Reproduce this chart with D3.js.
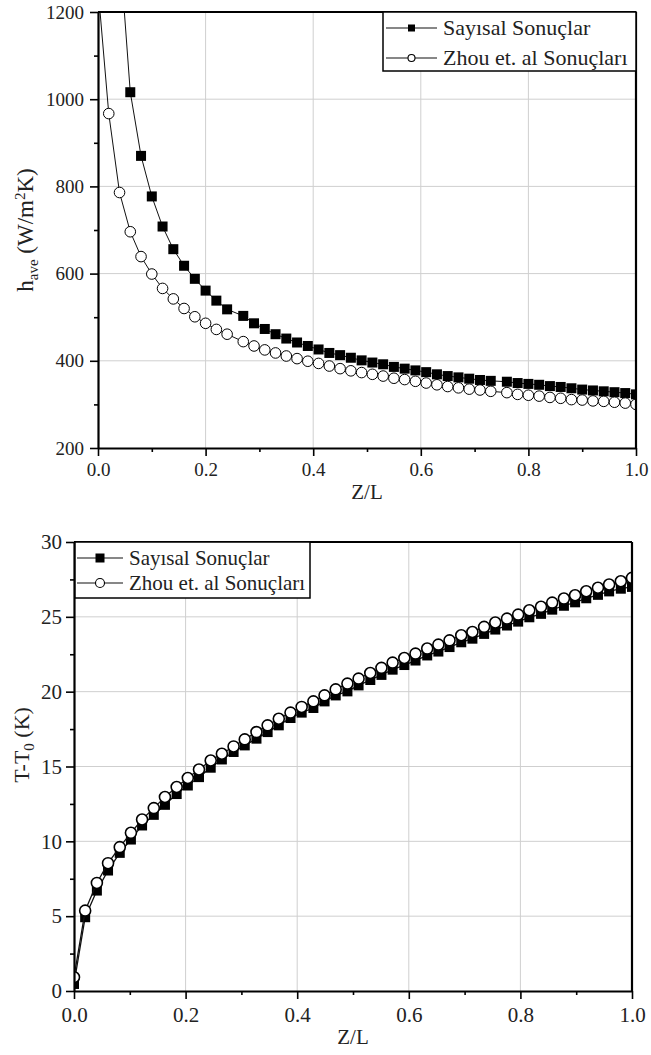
<!DOCTYPE html>
<html>
<head>
<meta charset="utf-8">
<script src="https://cdn.jsdelivr.net/npm/d3@7"></script>
<style>
  html, body { margin: 0; padding: 0; background: #fff; }
  svg { display: block; }
</style>
</head>
<body>
<script>
// ---------- DATA ----------
const seriesNames = ["Sayısal Sonuçlar", "Zhou et. al Sonuçları"];

// Top chart: h_ave vs Z/L
const topZ = [0,0.02,0.04,0.06,0.08,0.10,0.12,0.14,0.16,0.18,0.20,0.22,0.24,
  0.27,0.29,0.31,0.33,0.35,0.37,0.39,0.41,0.43,0.45,0.47,0.49,0.51,0.53,0.55,0.57,0.59,
  0.61,0.63,0.65,0.67,0.69,0.71,0.73,
  0.76,0.78,0.80,0.82,0.84,0.86,0.88,0.90,0.92,0.94,0.96,0.98,1.00];
const sayisalH = [null,null,1351,1016,870,777,708,656,618,588,561,538,518,
  503,486,473,461,451,442,434,426,418,413,407,401,396,392,386,382,378,
  374,369,365,362,359,356,354,
  352,349,347,345,342,340,337,334,332,330,328,326,323];
const zhouH = [1255,967,786,696,639,599,566,542,520,501,486,472,461,
  444,434,425,418,411,405,399,394,388,382,377,373,369,365,360,357,353,
  349,345,341,338,335,333,330,
  327,323,321,319,316,314,311,310,308,307,305,303,300];
const topXTicks = [0, 0.2, 0.4, 0.6, 0.8, 1.0];
const topXMinor = [0.1, 0.3, 0.5, 0.7, 0.9];
const topYTicks = [200, 400, 600, 800, 1000, 1200];
const topYMinor = [300, 500, 700, 900, 1100];

// Bottom chart: T-T0 vs Z/L
const botZ = [0,0.02,0.041,0.061,0.082,0.102,0.122,0.143,0.163,0.184,0.204,0.224,0.245,
  0.265,0.286,0.306,0.327,0.347,0.367,0.388,0.408,0.429,0.449,0.469,0.49,0.51,0.531,
  0.551,0.571,0.592,0.612,0.633,0.653,0.673,0.694,0.714,0.735,0.755,0.776,0.796,0.816,
  0.837,0.857,0.878,0.898,0.918,0.939,0.959,0.98,1.0];
const sayisalT = [0.47,4.93,6.71,8.05,9.23,10.12,11.06,11.77,12.44,13.16,13.73,14.29,14.92,
  15.47,15.97,16.41,16.86,17.30,17.75,18.24,18.60,18.91,19.35,19.75,20.02,20.42,
  20.78,21.12,21.47,21.78,22.08,22.42,22.68,22.98,23.30,23.54,23.86,24.15,24.42,24.68,
  24.97,25.20,25.48,25.74,25.97,26.24,26.47,26.70,26.88,27.0];
const zhouT = [0.92,5.37,7.22,8.54,9.61,10.57,11.46,12.22,12.96,13.63,14.23,14.80,15.40,
  15.85,16.34,16.81,17.30,17.75,18.19,18.60,18.98,19.35,19.75,20.15,20.54,
  20.87,21.25,21.59,21.94,22.25,22.54,22.88,23.14,23.43,23.77,23.99,24.33,24.62,24.88,
  25.15,25.44,25.67,25.95,26.22,26.44,26.71,26.94,27.16,27.38,27.6];
const botXTicks = [0, 0.2, 0.4, 0.6, 0.8, 1.0];
const botXMinor = [0.1, 0.3, 0.5, 0.7, 0.9];
const botYTicks = [0, 5, 10, 15, 20, 25, 30];
const botYMinor = [2.5, 7.5, 12.5, 17.5, 22.5, 27.5];

// ---------- DRAW ----------
const FONT = '"Liberation Serif", "Times New Roman", "DejaVu Serif", serif';
const svg = d3.select("body").append("svg").attr("width", 651).attr("height", 1055)
  .attr("font-family", FONT);

function txt(sel) {
  return sel.attr("font-family", FONT).style("font-family", FONT).attr("fill", "#222");
}

function panel(cfg) {
  const x = d3.scaleLinear().domain([0, 1]).range([cfg.left, cfg.right]);
  const y = d3.scaleLinear().domain(cfg.yDomain).range([cfg.bottom, cfg.top]);
  const g = svg.append("g");
  const clipId = "clip" + cfg.id;
  svg.append("defs").append("clipPath").attr("id", clipId)
    .append("rect").attr("x", cfg.left).attr("y", cfg.top)
    .attr("width", cfg.right - cfg.left).attr("height", cfg.bottom - cfg.top);

  // grid
  g.append("g").selectAll("line").data(cfg.xTicks.filter(d => d > 0 && d < 1)).join("line")
    .attr("x1", d => x(d)).attr("x2", d => x(d)).attr("y1", cfg.top).attr("y2", cfg.bottom)
    .attr("stroke", "#cfcfcf").attr("stroke-width", 1);
  g.append("g").selectAll("line").data(cfg.yTicks.slice(1, -1)).join("line")
    .attr("y1", d => y(d)).attr("y2", d => y(d)).attr("x1", cfg.left).attr("x2", cfg.right)
    .attr("stroke", "#cfcfcf").attr("stroke-width", 1);

  // data
  const data = cfg.z.map((z, i) => ({ z, a: cfg.a[i], b: cfg.b[i] }));
  const dg = g.append("g").attr("clip-path", `url(#${clipId})`);
  const lineA = d3.line().defined(d => d.a != null).x(d => x(d.z)).y(d => y(d.a));
  const lineB = d3.line().defined(d => d.b != null).x(d => x(d.z)).y(d => y(d.b));
  const s = cfg.sq, r = cfg.cr;
  dg.append("path").datum(data).attr("d", lineA).attr("fill", "none")
    .attr("stroke", "#111").attr("stroke-width", cfg.lw);
  dg.append("g").selectAll("rect").data(data.filter(d => d.a != null)).join("rect")
    .attr("x", d => x(d.z) - s / 2).attr("y", d => y(d.a) - s / 2)
    .attr("width", s).attr("height", s).attr("fill", "#000");
  dg.append("path").datum(data).attr("d", lineB).attr("fill", "none")
    .attr("stroke", "#111").attr("stroke-width", cfg.lw);
  dg.append("g").selectAll("circle").data(data.filter(d => d.b != null)).join("circle")
    .attr("cx", d => x(d.z)).attr("cy", d => y(d.b)).attr("r", r)
    .attr("fill", "#fff").attr("stroke", "#000").attr("stroke-width", cfg.cw);

  // axes
  const xAx = g.append("g").attr("transform", `translate(0,${cfg.bottom})`)
    .call(d3.axisBottom(x).tickValues(cfg.xTicks).tickFormat(d3.format(".1f")).tickSizeInner(8)
      .tickSizeOuter(0).tickPadding(cfg.xPad));
  g.append("g").attr("transform", `translate(0,${cfg.bottom})`)
    .call(d3.axisBottom(x).tickValues(cfg.xMinor).tickFormat("").tickSizeInner(4).tickSizeOuter(0))
    .select(".domain").remove();
  const yAx = g.append("g").attr("transform", `translate(${cfg.left},0)`)
    .call(d3.axisLeft(y).tickValues(cfg.yTicks).tickFormat(d3.format("d"))
      .tickSizeInner(8).tickSizeOuter(0).tickPadding(cfg.yPad));
  g.append("g").attr("transform", `translate(${cfg.left},0)`)
    .call(d3.axisLeft(y).tickValues(cfg.yMinor).tickFormat("").tickSizeInner(4).tickSizeOuter(0))
    .select(".domain").remove();
  g.selectAll(".tick line").attr("stroke", "#000").attr("stroke-width", 1.6);
  g.selectAll(".domain").attr("stroke", "#000").attr("stroke-width", 2.2);
  [xAx, yAx].forEach(a => {
    a.attr("font-family", FONT);
    txt(a.selectAll("text")).style("font-size", cfg.tickFont + "px");
  });

  // frame top / right
  g.append("line").attr("x1", cfg.left).attr("x2", cfg.right).attr("y1", cfg.top).attr("y2", cfg.top)
    .attr("stroke", "#000").attr("stroke-width", 2.2);
  g.append("line").attr("x1", cfg.right).attr("x2", cfg.right).attr("y1", cfg.top).attr("y2", cfg.bottom)
    .attr("stroke", "#000").attr("stroke-width", 2.2);

  // x title
  txt(g.append("text")).attr("x", (cfg.left + cfg.right) / 2).attr("y", cfg.xTitleY)
    .attr("text-anchor", "middle").style("font-size", "21px").text("Z/L");

  // legend
  const L = cfg.legend;
  g.append("rect").attr("x", L.x0).attr("y", L.y0).attr("width", L.x1 - L.x0).attr("height", L.y1 - L.y0)
    .attr("fill", "#fff").attr("stroke", "#000").attr("stroke-width", 1.5);
  seriesNames.forEach((name, i) => {
    const cy = L.rows[i];
    g.append("line").attr("x1", L.lx0).attr("x2", L.lx1).attr("y1", cy).attr("y2", cy)
      .attr("stroke", "#111").attr("stroke-width", 1.2);
    const mx = (L.lx0 + L.lx1) / 2;
    if (i === 0) {
      g.append("rect").attr("x", mx - L.ms / 2).attr("y", cy - L.ms / 2)
        .attr("width", L.ms).attr("height", L.ms).attr("fill", "#000");
    } else {
      g.append("circle").attr("cx", mx).attr("cy", cy).attr("r", L.ms / 2)
        .attr("fill", "#fff").attr("stroke", "#000").attr("stroke-width", 1.1);
    }
    txt(g.append("text")).attr("x", L.tx).attr("y", cy + L.font * 0.33)
      .style("font-size", L.font + "px").text(name);
  });
  return g;
}

// Top panel
const gTop = panel({
  id: "top", left: 98, right: 636, top: 12, bottom: 448, yDomain: [200, 1200],
  z: topZ, a: sayisalH, b: zhouH, xTicks: topXTicks, xMinor: topXMinor,
  yTicks: topYTicks, yMinor: topYMinor, sq: 10, cr: 5.3, cw: 1, lw: 1,
  xPad: 7, yPad: 6, tickFont: 19, xTitleY: 499,
  legend: { x0: 383, x1: 636, y0: 12, y1: 71, rows: [28, 58], lx0: 386, lx1: 437, tx: 443, ms: 7, font: 22 }
});
const yl1 = txt(gTop.append("text")).attr("transform", "translate(33,230) rotate(-90)")
  .attr("text-anchor", "middle").style("font-size", "23px");
yl1.append("tspan").text("h");
yl1.append("tspan").attr("dy", 5).style("font-size", "15px").text("ave");
yl1.append("tspan").attr("dy", -5).text(" (W/m");
yl1.append("tspan").attr("dy", -8).style("font-size", "15px").text("2");
yl1.append("tspan").attr("dy", 8).text("K)");

// Bottom panel
const gBot = panel({
  id: "bot", left: 74, right: 632, top: 542, bottom: 991, yDomain: [0, 30],
  z: botZ, a: sayisalT, b: zhouT, xTicks: botXTicks, xMinor: botXMinor,
  yTicks: botYTicks, yMinor: botYMinor, sq: 10, cr: 5.5, cw: 1.6, lw: 1.3,
  xPad: 8, yPad: 4, tickFont: 21, xTitleY: 1044,
  legend: { x0: 75, x1: 310, y0: 542, y1: 598, rows: [558, 583], lx0: 77, lx1: 123, tx: 129, ms: 9, font: 21 }
});
const yl2 = txt(gBot.append("text")).attr("transform", "translate(29,745) rotate(-90)")
  .attr("text-anchor", "middle").style("font-size", "22px");
yl2.append("tspan").text("T-T");
yl2.append("tspan").attr("dy", 5).style("font-size", "15px").text("0");
yl2.append("tspan").attr("dy", -5).text(" (K)");
</script>
</body>
</html>
